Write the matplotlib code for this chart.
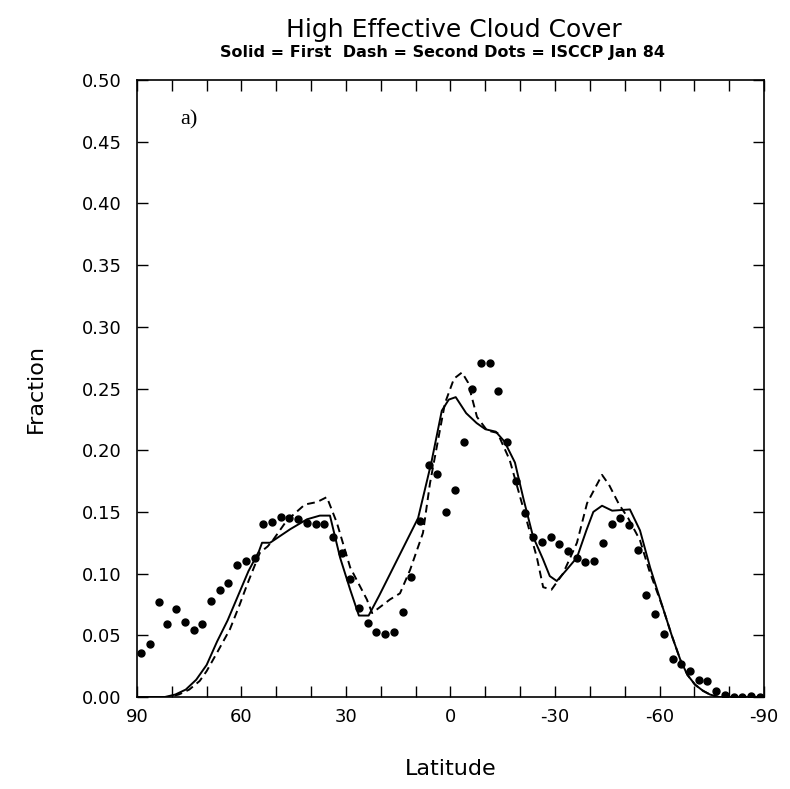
import numpy as np
import matplotlib
matplotlib.use('Agg')
import matplotlib.pyplot as plt

# ISCCP Jan 84 (dots)
lat_obs = [88.75, 86.25, 83.75, 81.25, 78.75, 76.25, 73.75, 71.25, 68.75, 66.25,
           63.75, 61.25, 58.75, 56.25, 53.75, 51.25, 48.75, 46.25, 43.75, 41.25,
           38.75, 36.25, 33.75, 31.25, 28.75, 26.25, 23.75, 21.25, 18.75, 16.25,
           13.75, 11.25, 8.75, 6.25, 3.75, 1.25, -1.25, -3.75, -6.25, -8.75,
           -11.25, -13.75, -16.25, -18.75, -21.25, -23.75, -26.25, -28.75, -31.25, -33.75,
           -36.25, -38.75, -41.25, -43.75, -46.25, -48.75, -51.25, -53.75, -56.25, -58.75,
           -61.25, -63.75, -66.25, -68.75, -71.25, -73.75, -76.25, -78.75, -81.25, -83.75,
           -86.25, -88.75]
frac_obs = [0.036, 0.043, 0.077, 0.059, 0.071, 0.061, 0.054, 0.059, 0.078, 0.087,
            0.092, 0.107, 0.110, 0.113, 0.140, 0.142, 0.146, 0.145, 0.144, 0.141,
            0.140, 0.140, 0.130, 0.117, 0.096, 0.072, 0.060, 0.053, 0.051, 0.053,
            0.069, 0.097, 0.143, 0.188, 0.181, 0.150, 0.168, 0.207, 0.250, 0.271,
            0.271, 0.248, 0.207, 0.175, 0.149, 0.130, 0.126, 0.130, 0.124, 0.118,
            0.113, 0.109, 0.110, 0.125, 0.140, 0.145, 0.139, 0.119, 0.083, 0.067,
            0.051, 0.031, 0.027, 0.021, 0.014, 0.013, 0.005, 0.002, 0.000, 0.000,
            0.001, 0.000]

# First run (solid)
lat_first = [90, 82, 79, 76, 73, 70, 67, 64, 61, 58, 55, 54.1, 51.8, 46, 41.2,
             37.5, 34.6, 31.7, 28.8, 26.3, 23.5, 20.5, 9.3, 5.5, 2.5, 0.5, -1.5,
             -4.5, -7.5, -10, -13, -15.5, -18.5, -21, -23.7, -26.5, -28.5, -30.5,
             -33, -36.3, -39, -41, -43.5, -46.4, -51.5, -54.4, -57.3, -61, -63.5,
             -66, -68, -70.2, -72.5, -74.5, -77, -90]
frac_first = [0.0, 0.0, 0.002, 0.006, 0.014, 0.026, 0.045, 0.062, 0.082, 0.102, 0.118,
              0.125, 0.125, 0.136, 0.144, 0.147, 0.147, 0.113, 0.087, 0.066, 0.066,
              0.082, 0.145, 0.190, 0.232, 0.241, 0.243, 0.230, 0.222, 0.217, 0.215,
              0.207, 0.190, 0.160, 0.130, 0.112, 0.098, 0.094, 0.102, 0.113, 0.135,
              0.150, 0.155, 0.151, 0.152, 0.135, 0.105, 0.072, 0.050, 0.030, 0.018,
              0.010, 0.005, 0.002, 0.0, 0.0]

# Second run (dashed)
lat_second = [90, 81, 78, 75, 72, 70, 67, 63.3, 60.5, 58.4, 56, 54.7, 52.5, 51, 47,
              41.8, 38.3, 35.5, 32.6, 28.8, 24, 22.5, 21.1, 17.4, 14.5, 11.6, 7.9,
              5.9, 1.6, -1, -3.3, -5, -7.6, -10.5, -13.5, -17, -20.8, -24.8, -26.6,
              -29, -32.3, -36.3, -39.2, -43.5, -45.5, -48.4, -51, -54.4, -57, -61,
              -63.5, -66, -68, -70.2, -72.5, -74.5, -77, -90]
frac_second = [0.0, 0.0, 0.002, 0.006, 0.013, 0.021, 0.036, 0.055, 0.075, 0.091,
               0.108, 0.117, 0.122, 0.127, 0.143, 0.156, 0.158, 0.162, 0.141, 0.105,
               0.079, 0.068, 0.071, 0.079, 0.084, 0.103, 0.133, 0.173, 0.238, 0.258,
               0.263, 0.255, 0.227, 0.216, 0.214, 0.192, 0.154, 0.113, 0.089, 0.087,
               0.100, 0.125, 0.157, 0.180, 0.172, 0.156, 0.145, 0.127, 0.103, 0.072,
               0.050, 0.030, 0.018, 0.010, 0.005, 0.002, 0.0, 0.0]

fig = plt.figure(figsize=(7.9, 7.89), dpi=100)
ax = fig.add_axes([0.1734, 0.1166, 0.7937, 0.782])

ax.plot(lat_first, frac_first, 'k-', lw=1.4)
ax.plot(lat_second, frac_second, 'k--', lw=1.4, dashes=(4, 2.5))
ax.plot(lat_obs, frac_obs, 'ko', ms=5, ls='none')

ax.set_xlim(90, -90)
ax.set_ylim(0, 0.5)
ax.set_xticks([90, 60, 30, 0, -30, -60, -90])
ax.set_xticklabels(['90', '60', '30', '0', '-30', '-60', '-90'])
ax.set_xticks(np.arange(-90, 91, 10), minor=True)
ax.set_yticks(np.arange(0, 0.501, 0.05))
ax.set_yticklabels(['%.2f' % v for v in np.arange(0, 0.501, 0.05)])
ax.tick_params(which='both', direction='in', top=True, right=True,
               length=8, width=1, labelsize=13)
ax.tick_params(axis='x', pad=8)
ax.tick_params(axis='y', pad=11)
for s in ax.spines.values():
    s.set_linewidth(1.2)

ax.set_xlabel('Latitude', fontsize=16, labelpad=24)
ax.set_ylabel('Fraction', fontsize=16, labelpad=26)
ax.text(0.069, 0.935, 'a)', transform=ax.transAxes, fontsize=16,
        va='center', family='Liberation Serif')

fig.text(0.574, 0.962, 'High Effective Cloud Cover', ha='center', va='center',
         fontsize=18)
fig.text(0.560, 0.934, 'Solid = First  Dash = Second Dots = ISCCP Jan 84',
         ha='center', va='center', fontsize=11.5, fontweight='bold')

plt.savefig('out.png', dpi=100)
